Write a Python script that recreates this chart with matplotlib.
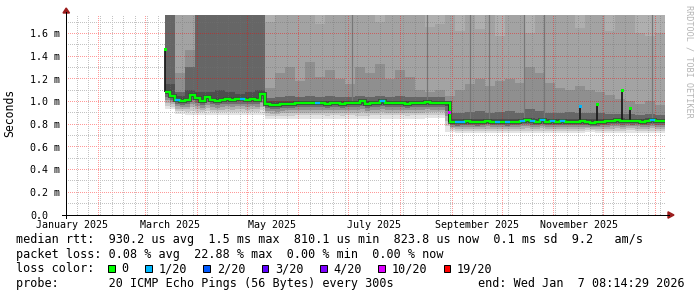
import numpy as np
import pandas as pd
import matplotlib
matplotlib.use("Agg")
import matplotlib.pyplot as plt
import matplotlib.dates as mdates
import matplotlib.transforms as mtransforms
from matplotlib.lines import Line2D
from matplotlib.patches import Rectangle, Polygon

# ------------------------------------------------------------------ data
x_start = "2025-01-12 08:14:29"
x_end = "2026-01-07 08:14:29"
y_top = 1.762   # ms (axis shows milli-seconds)

data_start = "2025-03-13"
median_step_days = 3
median_ms = [
    1.08, 1.05, 1.01, 1.00, 1.01, 1.06, 1.03, 1.00, 1.04, 1.01,
    1.00, 1.01, 1.02, 1.01, 1.02, 1.02, 1.01, 1.02, 1.01, 1.07,
    0.975,
    0.965, 0.965, 0.975, 0.98, 0.98, 0.985, 0.985, 0.985, 0.985, 0.985,
    0.985, 0.98, 0.985, 0.985, 0.98, 0.985, 0.985, 0.99, 1.00, 0.975,
    0.985, 0.985, 1.00, 0.985, 0.985, 0.985, 0.985, 0.98, 0.985, 0.985,
    0.985, 0.995, 0.99, 0.99, 0.99, 0.99,
    0.815, 0.815, 0.82, 0.825, 0.82, 0.815, 0.82, 0.83, 0.82, 0.815,
    0.815, 0.815, 0.82, 0.82, 0.83, 0.835, 0.825, 0.82, 0.835, 0.82,
    0.825, 0.82, 0.825, 0.82, 0.82, 0.82, 0.825, 0.815, 0.81, 0.815,
    0.82, 0.825, 0.83, 0.835, 0.825, 0.83, 0.825, 0.83, 0.82, 0.825,
    0.835, 0.825, 0.825,
]
loss_count = [
    0, 0, 1, 0, 0, 0, 0, 0, 0, 0,
    0, 0, 0, 0, 0, 1, 0, 0, 0, 0,
    0, 0, 0, 0, 0, 0, 0, 0, 0, 0,
    1, 0, 0, 0, 0, 0, 0, 0, 0, 0,
    0, 0, 0, 1, 0, 0, 0, 0, 0, 0,
    0, 0, 0, 0, 0, 0, 0, 0, 1, 1,
    0, 0, 0, 0, 0, 0, 1, 0, 1, 0,
    0, 1, 0, 1, 0, 1, 0, 1, 0, 1,
    0, 0, 0, 0, 0, 0, 0, 0, 0, 0,
    0, 0, 0, 0, 0, 0, 0, 1, 0, 0,
]

smoke_step_days = 6
smoke_min = [
    0.93, 0.89, 0.885, 0.88, 0.88, 0.88, 0.88, 0.88, 0.88, 0.885,
    0.85, 0.845, 0.85, 0.85, 0.85, 0.85, 0.85, 0.85, 0.85, 0.845,
    0.85, 0.85, 0.85, 0.85, 0.85, 0.85, 0.855, 0.855,
    0.73, 0.72, 0.72, 0.72, 0.72, 0.725, 0.72, 0.72, 0.72, 0.72,
    0.72, 0.72, 0.725, 0.72, 0.73, 0.72, 0.72, 0.72, 0.725, 0.72,
    0.72, 0.72,
]
smoke_p55 = [
    1.15, 1.05, 1.10, 1.08, 1.08, 1.10, 1.08, 1.07, 1.08, 1.10,
    1.00, 1.00, 1.005, 1.00, 1.005, 1.00, 1.00, 1.00, 1.005, 1.00,
    1.00, 1.005, 1.00, 1.00, 1.00, 1.005, 1.00, 1.00,
    0.85, 0.845, 0.85, 0.85, 0.85, 0.85, 0.845, 0.85, 0.855, 0.85,
    0.85, 0.85, 0.85, 0.85, 0.845, 0.845, 0.85, 0.855, 0.85, 0.85,
    0.855, 0.85,
]
smoke_p60 = [
    2.2, 1.08, 1.30, 2.2, 2.2, 2.2, 2.2, 2.2, 2.2, 2.2,
    1.03, 1.04, 1.05, 1.04, 1.05, 1.04, 1.05, 1.04, 1.04, 1.05,
    1.04, 1.05, 1.04, 1.05, 1.04, 1.04, 1.04, 1.04,
    0.90, 0.90, 0.91, 0.92, 0.90, 0.91, 0.92, 0.90, 0.93, 0.92,
    0.90, 0.90, 0.91, 0.90, 0.90, 0.90, 0.89, 0.89, 0.89, 0.88,
    0.89, 0.88,
]
smoke_p75 = [
    2.2, 1.25, 1.45, 2.2, 2.2, 2.2, 2.2, 2.2, 2.2, 2.2,
    1.12, 1.25, 1.30, 1.18, 1.35, 1.22, 1.28, 1.20, 1.15, 1.30,
    1.25, 1.33, 1.20, 1.28, 1.22, 1.10, 1.08, 1.10,
    1.05, 1.10, 1.15, 1.20, 1.14, 1.18, 1.20, 1.16, 1.30, 1.25,
    1.16, 1.12, 1.10, 1.14, 1.10, 1.08, 1.06, 1.02, 1.00, 0.98,
    1.00, 0.97,
]
smoke_p90 = [
    2.2, 2.2, 2.2, 2.2, 2.2, 2.2, 2.2, 2.2, 2.2, 2.2,
    1.70, 2.2, 2.2, 2.2, 2.2, 1.68, 2.2, 2.2, 2.2, 2.2,
    2.2, 1.70, 2.2, 2.2, 2.2, 2.2, 1.66, 1.68,
    2.2, 1.62, 2.2, 1.64, 2.2, 1.58, 2.2, 2.2, 1.60, 2.2,
    2.2, 2.2, 2.2, 1.65, 2.2, 2.2, 1.62, 2.2, 2.2, 1.60,
    1.58, 1.60,
]
smoke_max = [
    2.4, 2.4, 2.4, 2.4, 2.4, 2.4, 2.4, 2.4, 2.4, 2.4,
    2.4, 2.4, 2.4, 2.4, 2.4, 2.4, 2.4, 2.4, 2.4, 2.4,
    2.4, 2.4, 2.4, 2.4, 2.4, 2.4, 2.4, 2.4,
    2.4, 2.4, 2.4, 2.4, 2.4, 2.4, 2.4, 2.4, 2.4, 2.4,
    2.4, 2.4, 2.4, 2.4, 2.4, 2.4, 2.4, 2.4, 2.4, 2.4,
    2.4, 2.4,
]

spike_dates = ["2025-03-13", "2025-08-30", "2025-11-17", "2025-11-27", "2025-12-12", "2025-12-17"]
spike_low = [1.08, 0.815, 0.82, 0.815, 0.825, 0.825]
spike_high = [1.46, 0.99, 0.96, 0.98, 1.10, 0.94]
spike_point = [1.46, 0.91, 0.96, 0.98, 1.10, 0.94]
spike_loss = [0, 10, 1, 0, 0, 0]

streak_dates = ["2025-07-03", "2025-08-17", "2025-09-12", "2025-09-23", "2025-10-14", "2025-10-26", "2025-12-30"]
streak_low = [0.99, 0.99, 0.83, 0.83, 0.83, 0.84, 0.83]
streak_high = [2.2, 2.2, 2.2, 2.2, 2.2, 2.2, 2.2]

loss_levels = [0, 1, 2, 3, 4, 10, 19]
loss_labels = ["0", "1/20", "2/20", "3/20", "4/20", "10/20", "19/20"]
loss_colors = ["#00ff00", "#00b8ff", "#0059ff", "#5e00ff", "#7e00ff", "#dd00ff", "#ff0000"]

xlabel_dates = ["2025-01-16", "2025-03-16", "2025-05-16", "2025-07-16", "2025-09-16", "2025-11-16"]
xlabel_texts = ["January 2025", "March 2025", "May 2025", "July 2025", "September 2025", "November 2025"]
ytick_values = [0.0, 0.2, 0.4, 0.6, 0.8, 1.0, 1.2, 1.4, 1.6]
ytick_labels = ["0.0", "0.2 m", "0.4 m", "0.6 m", "0.8 m", "1.0 m", "1.2 m", "1.4 m", "1.6 m"]
yminor_values = [0.1, 0.3, 0.5, 0.7, 0.9, 1.1, 1.3, 1.5, 1.7]

legend_rtt = "median rtt:  930.2 us avg  1.5 ms max  810.1 us min  823.8 us now  0.1 ms sd  9.2   am/s"
legend_loss = "packet loss: 0.08 % avg  22.88 % max  0.00 % min  0.00 % now"
legend_color_title = "loss color:"
legend_probe = "probe:       20 ICMP Echo Pings (56 Bytes) every 300s"
legend_end = "end: Wed Jan  7 08:14:29 2026"
watermark = "RRDTOOL / TOBI OETIKER"

# ------------------------------------------------------------------ layout
W, H = 697, 297
PX = 0.72  # points per pixel at 100 dpi
MONO = "DejaVu Sans Mono"
fig = plt.figure(figsize=(W / 100, H / 100), dpi=100)
fig.patch.set_facecolor("white")
L, R, T, B = 66, 666, 15, 215
ax = fig.add_axes([L / W, 1 - B / H, (R - L) / W, (B - T) / H])
ax.set_facecolor("white")
for s in ax.spines.values():
    s.set_visible(False)
ax.set_xticks([])
ax.set_yticks([])

def fx(x):
    return x / W

def fy(y):
    return 1 - y / H

xs = mdates.date2num(pd.Timestamp(x_start))
xe = mdates.date2num(pd.Timestamp(x_end))
ax.set_xlim(xs, xe)
ax.set_ylim(0, y_top)

# ------------------------------------------------------------------ smoke
e6 = mdates.date2num(pd.date_range(data_start, periods=len(smoke_min) + 1, freq=f"{smoke_step_days}D"))
e3 = mdates.date2num(pd.date_range(data_start, periods=len(median_ms) + 1, freq=f"{median_step_days}D"))

def ext(a):
    a = np.asarray(a, dtype=float)
    return np.append(a, a[-1])

def stepfill(edges, lo, hi, color, z=1):
    ax.fill_between(edges, ext(lo), ext(hi), step="post", color=color,
                    lw=0, antialiased=False, zorder=z)

stepfill(e6, smoke_min, smoke_max, "#afafaf")
stepfill(e6, smoke_min, smoke_p90, "#a3a3a3")
stepfill(e6, smoke_min, smoke_p75, "#8f8f8f")
stepfill(e6, smoke_min, smoke_p60, "#666666")
stepfill(e6, smoke_min, smoke_p55, "#4e4e4e")

med = np.asarray(median_ms, dtype=float)
min3 = np.repeat(np.asarray(smoke_min, dtype=float), 2)
fracs = [0.0, 0.12, 0.28, 0.45, 0.62, 0.80, 1.0]
low_cols = ["#4c4c4c", "#6e6e6e", "#909090", "#afafaf", "#cbcbcb", "#e4e4e4"]
for i, c in enumerate(low_cols):
    hi = med - fracs[i] * (med - min3)
    lo = med - fracs[i + 1] * (med - min3)
    stepfill(e3, lo, hi, c, z=1.5)

ax.vlines(mdates.date2num(pd.to_datetime(streak_dates)), streak_low, streak_high,
          colors="#777777", lw=1.2 * PX, zorder=1.8)

# ------------------------------------------------------------------ dotted grid as a pixel overlay
gw, gh = R - L, B - T
grid_img = np.zeros((gh, gw, 4))
top_disp = H - T
left_disp = L

def hline(v, rgba):
    yd = ax.transData.transform((xs, v))[1]
    r = int(np.floor(top_disp - yd))
    if 0 <= r < gh:
        grid_img[r, 0::2] = rgba

def vline(d, rgba):
    xd = ax.transData.transform((d, 0))[0]
    c = int(np.floor(xd - left_disp))
    if 0 <= c < gw:
        grid_img[1::2, c] = rgba

minor_rgba = (0.45, 0.45, 0.45, 0.42)
major_rgba = (1.0, 0.0, 0.0, 0.40)
weeks = pd.date_range(x_start, x_end, freq="W-SUN", normalize=True)
for d in weeks:
    vline(mdates.date2num(d), minor_rgba)
for v in yminor_values:
    hline(v, minor_rgba)
months = pd.date_range("2025-02-01", "2026-01-01", freq="MS")
for d in months:
    vline(mdates.date2num(d), major_rgba)
for v in ytick_values[1:]:
    hline(v, major_rgba)
ax.imshow(grid_img, extent=(xs, xe, 0, y_top), origin="upper", aspect="auto",
          interpolation="nearest", zorder=3)
ax.set_xlim(xs, xe)
ax.set_ylim(0, y_top)

# ------------------------------------------------------------------ median line
ax.step(e3, ext(med), where="post", color="#404040", lw=3.8 * PX, zorder=4,
        solid_capstyle="butt", solid_joinstyle="miter")
sd = mdates.date2num(pd.to_datetime(spike_dates))
ax.vlines(sd, spike_low, spike_high, colors="#1c1c1c", lw=1.8 * PX, zorder=4.2)
ax.step(e3, ext(med), where="post", color=loss_colors[0], lw=2.3 * PX, zorder=5,
        solid_capstyle="butt", solid_joinstyle="miter")
color_of = dict(zip(loss_levels, loss_colors))
for i, lc in enumerate(loss_count):
    if lc:
        ax.hlines(med[i], e3[i], e3[i + 1], colors=color_of[lc], lw=2.3 * PX, zorder=6)
for d, p, l in zip(sd, spike_point, spike_loss):
    ax.plot([d], [p], marker="s", ms=3.0 * PX, mew=0, color=color_of[l], zorder=6.5)

# ------------------------------------------------------------------ axes, arrows, labels
fig.add_artist(Line2D([fx(62), fx(669)], [fy(215), fy(215)], color="black", lw=PX))
fig.add_artist(Line2D([fx(66), fx(66)], [fy(218), fy(12)], color="black", lw=PX))
fig.add_artist(Polygon([(fx(63), fy(13)), (fx(69.5), fy(13)), (fx(66.2), fy(8))],
                       closed=True, color="#9b1c1c", transform=fig.transFigure))
fig.add_artist(Polygon([(fx(668), fy(211.8)), (fx(668), fy(218.2)), (fx(674), fy(215))],
                       closed=True, color="#9b1c1c", transform=fig.transFigure))

xtr_b = ax.get_xaxis_transform()
for d, t in zip(xlabel_dates, xlabel_texts):
    ax.text(mdates.date2num(pd.Timestamp(d)), -(228 - B) / (B - T), t, transform=xtr_b,
            ha="center", va="baseline", fontsize=7.2, family=MONO, color="black", clip_on=False)

ytr = mtransforms.offset_copy(ax.get_yaxis_transform(), fig=fig, x=0, y=-3.9 * PX, units="points")
for v, t in zip(ytick_values, ytick_labels):
    ax.text(-(L - 30) / (R - L), v, t, transform=ytr, ha="left", va="baseline",
            fontsize=7.2, family=MONO, color="black", clip_on=False)

fig.text(fx(10), fy(113), "Seconds", rotation=90, ha="center", va="center",
         fontsize=8.3, family=MONO, color="black")
fig.text(fx(688.5), fy(5), watermark, rotation=270, ha="center", va="top",
         fontsize=6.1, family=MONO, color="#b4b4b4")

# ------------------------------------------------------------------ legend
LEG = 8.5
CW = 7.11
fig.text(fx(16), fy(243.5), legend_rtt, fontsize=LEG, family=MONO, va="baseline")
fig.text(fx(16), fy(258), legend_loss, fontsize=LEG, family=MONO, va="baseline")
fig.text(fx(16), fy(272.5), legend_color_title, fontsize=LEG, family=MONO, va="baseline")
fig.text(fx(16), fy(287), legend_probe, fontsize=LEG, family=MONO, va="baseline")
fig.text(fx(478.5), fy(287), legend_end, fontsize=LEG, family=MONO, va="baseline")

bx = 108.3
for lab, col in zip(loss_labels, loss_colors):
    fig.add_artist(Rectangle((fx(bx), fy(271.8)), 6.6 / W, 6.6 / H, transform=fig.transFigure,
                             facecolor=col, edgecolor="black", lw=PX))
    fig.text(fx(bx + 13.4), fy(272.5), lab, fontsize=LEG, family=MONO, va="baseline")
    bx += 29.8 + len(lab) * CW

fig.savefig("out.png", dpi=100, facecolor="white")
